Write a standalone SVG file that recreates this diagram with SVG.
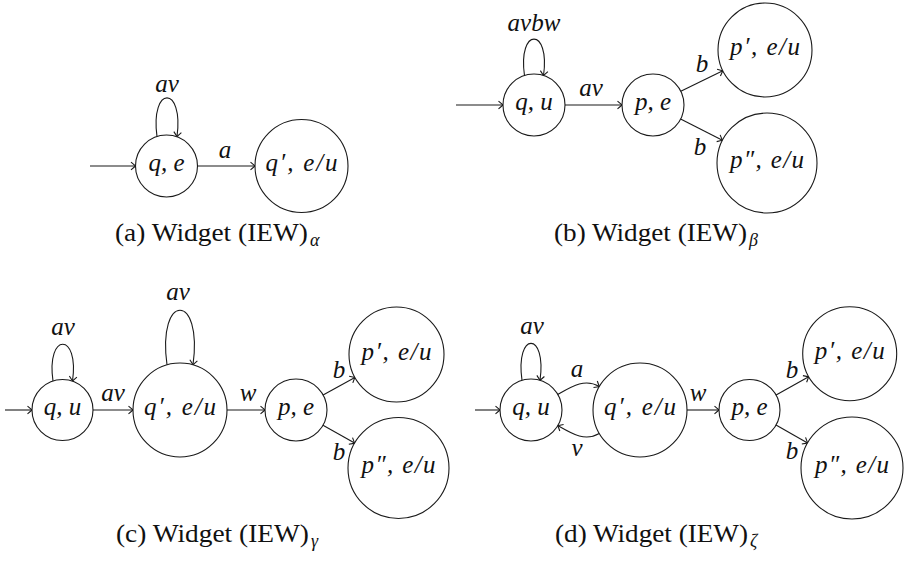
<svg xmlns="http://www.w3.org/2000/svg" width="905" height="564" viewBox="0 0 905 564">
<style>
.n{fill:#fff;stroke:#1a1a1a;stroke-width:1.1}
.e{fill:none;stroke:#1a1a1a;stroke-width:1.1;marker-end:url(#arr)}
.m{font-family:"Liberation Serif","Times New Roman",serif;font-style:italic;font-size:25px;fill:#111;text-anchor:middle}
.c{font-family:"Liberation Serif","Times New Roman",serif;font-size:26px;fill:#111}
.s{font-family:"Liberation Serif","Times New Roman",serif;font-style:italic;font-size:18px;fill:#111}
</style>
<defs>
<marker id="arr" viewBox="-6 -5 7 10" markerWidth="7" markerHeight="10" refX="0" refY="0" orient="auto" markerUnits="userSpaceOnUse">
<path d="M-4.5,-3.8 Q-1.2,-1 0,0 Q-1.2,1 -4.5,3.8" fill="none" stroke="#1a1a1a" stroke-width="1.1"/>
</marker>
</defs>
<rect width="905" height="564" fill="#fff"/>

<!-- connectors -->
<g id="connectors">
<!-- (a) -->
<path class="e" d="M90,166 H135.5"/>
<path class="e" d="M197.5,166 H255"/>
<path class="e" d="M157,136.6 C150,85 184,85 177,136.6"/>
<text class="m" x="225" y="158">a</text>
<text class="m" x="167" y="92">av</text>
<!-- (b) -->
<path class="e" d="M456,105 H503"/>
<path class="e" d="M565,105 H622"/>
<path class="e" d="M524.5,75.6 C517.5,27 550.5,27 543.5,75.6"/>
<path class="e" d="M680.8,91.3 L722.8,70.7"/>
<path class="e" d="M680.6,119.1 L722.4,140.3"/>
<text class="m" x="534" y="31">avbw</text>
<text class="m" x="591" y="96">av</text>
<text class="m" x="702" y="72">b</text>
<text class="m" x="700" y="155">b</text>
<!-- (c) -->
<path class="e" d="M5,410 H32"/>
<path class="e" d="M93,410 H133"/>
<path class="e" d="M227,410 H265"/>
<path class="e" d="M53,381 C46,332 79.5,332 72.5,381"/>
<path class="e" d="M167,364.8 C157,292 203,292 193,364.8"/>
<path class="e" d="M323.1,395 L354.9,377.4"/>
<path class="e" d="M323,425.3 L354.6,443.1"/>
<text class="m" x="63" y="335">av</text>
<text class="m" x="178" y="300">av</text>
<text class="m" x="113" y="401">av</text>
<text class="m" x="248" y="401">w</text>
<text class="m" x="339" y="378">b</text>
<text class="m" x="339" y="460">b</text>
<!-- (d) -->
<path class="e" d="M475,410 H500"/>
<path class="e" d="M522,380.4 C515,331 547,331 540,380.4"/>
<path class="e" d="M557.8,394.5 C572.2,386.2 584.9,378.2 599.3,386.5"/>
<path class="e" d="M599.3,433.5 C584.9,441.8 572.2,433.8 557.8,425.5"/>
<path class="e" d="M687,410 H719"/>
<path class="e" d="M776.1,395.1 L808.7,376.7"/>
<path class="e" d="M776,425 L807.6,442.9"/>
<text class="m" x="532" y="334">av</text>
<text class="m" x="577" y="377">a</text>
<text class="m" x="577" y="456">v</text>
<text class="m" x="698" y="401">w</text>
<text class="m" x="792" y="378">b</text>
<text class="m" x="792" y="459">b</text>
</g>

<!-- (a) nodes -->
<g id="a-qe"><circle class="n" cx="166.5" cy="166" r="31"/><text class="m" x="166.5" y="171">q, e</text></g>
<g id="a-qp"><circle class="n" cx="301.5" cy="166" r="46.5"/><text class="m" x="301.5" y="171" textLength="72">q′, e/u</text></g>
<!-- (b) nodes -->
<g id="b-qu"><circle class="n" cx="534" cy="105" r="31"/><text class="m" x="534" y="110">q, u</text></g>
<g id="b-pe"><circle class="n" cx="653" cy="105" r="31"/><text class="m" x="653" y="110">p, e</text></g>
<g id="b-pp"><circle class="n" cx="765" cy="50" r="47"/><text class="m" x="765" y="55" textLength="70">p′, e/u</text></g>
<g id="b-ppp"><circle class="n" cx="767" cy="163" r="50"/><text class="m" x="767" y="168" textLength="74">p″, e/u</text></g>
<!-- (c) nodes -->
<g id="c-qu"><circle class="n" cx="62.5" cy="410" r="30.5"/><text class="m" x="62.5" y="415">q, u</text></g>
<g id="c-qp"><circle class="n" cx="180" cy="410" r="47"/><text class="m" x="180" y="415" textLength="72">q′, e/u</text></g>
<g id="c-pe"><circle class="n" cx="296" cy="410" r="31"/><text class="m" x="296" y="415">p, e</text></g>
<g id="c-pp"><circle class="n" cx="396.5" cy="354.5" r="47.5"/><text class="m" x="396.5" y="359.5" textLength="70">p′, e/u</text></g>
<g id="c-ppp"><circle class="n" cx="398.5" cy="468" r="50.5"/><text class="m" x="398.5" y="473" textLength="74">p″, e/u</text></g>
<!-- (d) nodes -->
<g id="d-qu"><circle class="n" cx="531" cy="410" r="31"/><text class="m" x="531" y="415">q, u</text></g>
<g id="d-qp"><circle class="n" cx="640" cy="410" r="47"/><text class="m" x="640" y="415" textLength="72">q′, e/u</text></g>
<g id="d-pe"><circle class="n" cx="749.5" cy="410" r="30.5"/><text class="m" x="749.5" y="415">p, e</text></g>
<g id="d-pp"><circle class="n" cx="849.7" cy="353.7" r="47"/><text class="m" x="849.7" y="358.7" textLength="70">p′, e/u</text></g>
<g id="d-ppp"><circle class="n" cx="852" cy="468" r="51"/><text class="m" x="852" y="473" textLength="74">p″, e/u</text></g>

<!-- captions -->
<g id="captions">
<text class="c" x="115" y="241" textLength="193" lengthAdjust="spacingAndGlyphs">(a) Widget (IEW)</text><text class="s" x="310" y="246">α</text>
<text class="c" x="554" y="241" textLength="193" lengthAdjust="spacingAndGlyphs">(b) Widget (IEW)</text><text class="s" x="749" y="246">β</text>
<text class="c" x="116" y="542" textLength="193" lengthAdjust="spacingAndGlyphs">(c) Widget (IEW)</text><text class="s" x="311" y="547">γ</text>
<text class="c" x="555" y="542" textLength="193" lengthAdjust="spacingAndGlyphs">(d) Widget (IEW)</text><text class="s" x="750" y="547">ζ</text>
</g>
</svg>
